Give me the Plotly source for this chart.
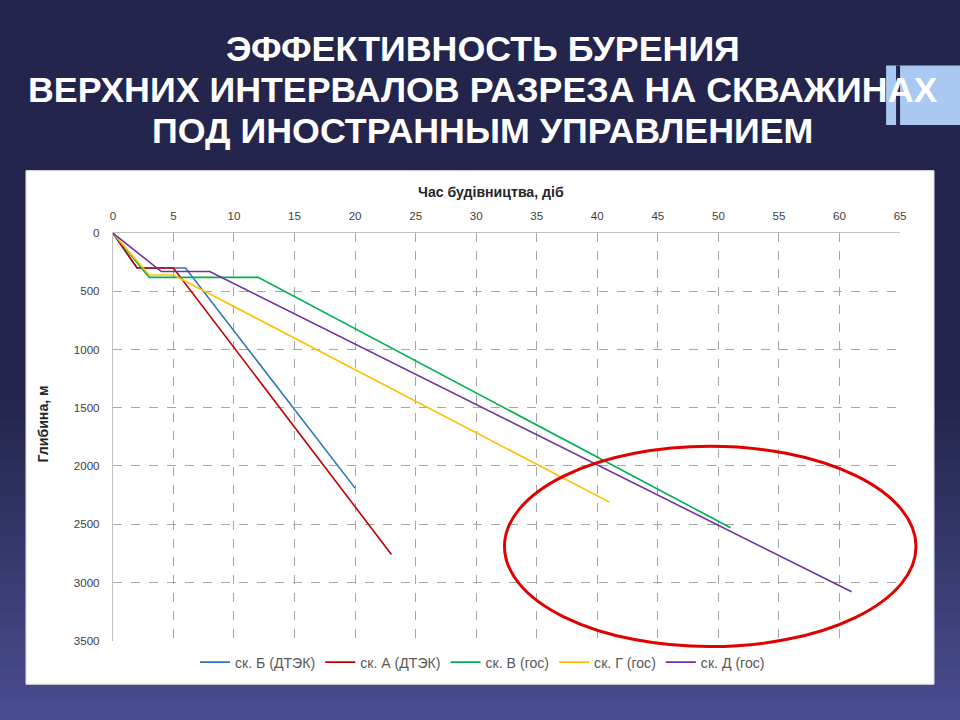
import plotly.graph_objects as go

# rendering scale compensation (reference pixels -> figure pixels)
K = 968 / 960
W, H = 968, 726

# ---- data (days, depth m) ----
names = ["ск. Б (ДТЭК)", "ск. А (ДТЭК)", "ск. В (гос)", "ск. Г (гос)", "ск. Д (гос)"]
days_B = [0, 2, 6, 20]
depth_B = [0, 300, 300, 2190]
days_A = [0, 2, 5, 23]
depth_A = [0, 300, 300, 2760]
days_V = [0, 3, 12, 51]
depth_V = [0, 380, 380, 2530]
days_G = [0, 3, 5, 41]
depth_G = [0, 360, 360, 2310]
days_D = [0, 4, 8, 61]
depth_D = [0, 330, 330, 3080]
colors = ["#2E75B6", "#C00000", "#00B050", "#FFC000", "#7030A0"]

title_lines = ["ЭФФЕКТИВНОСТЬ БУРЕНИЯ",
               "ВЕРХНИХ ИНТЕРВАЛОВ РАЗРЕЗА НА СКВАЖИНАХ",
               "ПОД ИНОСТРАННЫМ УПРАВЛЕНИЕМ"]
x_title = "Час будівництва, діб"
y_title = "Глибина, м"
x_ticks = list(range(0, 70, 5))
y_ticks = list(range(0, 4000, 500))

series = [(days_B, depth_B), (days_A, depth_A), (days_V, depth_V),
          (days_G, depth_G), (days_D, depth_D)]

fig = go.Figure()
for (dx, dy), nm, c in zip(series, names, colors):
    fig.add_trace(go.Scatter(x=dx, y=dy, mode="lines", name=nm,
                             line=dict(color=c, width=1.6)))

def px(x):
    return (x - 2) / 960

def py(y):
    return 1 - y / 720

def fs(s):
    return s * K

shapes = []
# background gradient (dark navy -> blue-violet)
top = (35, 37, 76)
bot = (74, 77, 143)
N = 72
for i in range(N):
    y0 = i * 720 / N
    y1 = (i + 1) * 720 / N
    t = (y0 + y1) / 2 / 720
    f = 0 if t < 0.55 else (t - 0.55) / 0.45
    col = tuple(int(round(a + (b - a) * f)) for a, b in zip(top, bot))
    shapes.append(dict(type="rect", xref="paper", yref="paper", x0=-0.01, x1=1.01,
                       y0=py(y1) - 0.001, y1=py(y0) + 0.001, layer="below",
                       line=dict(width=0), fillcolor="rgb(%d,%d,%d)" % col))
# light-blue accent rectangles top-right
shapes.append(dict(type="rect", xref="paper", yref="paper", x0=px(886), x1=1.01,
                   y0=py(120), y1=py(60), layer="below", line=dict(width=0),
                   fillcolor="#A9C8F2"))
shapes.append(dict(type="rect", xref="paper", yref="paper", x0=px(896), x1=px(900),
                   y0=py(120), y1=py(60), layer="below", line=dict(width=0),
                   fillcolor="#23254C"))
# white chart panel
shapes.append(dict(type="rect", xref="paper", yref="paper", x0=px(25), x1=px(934),
                   y0=py(684), y1=py(166), layer="below",
                   line=dict(color="#D9D9D9", width=1), fillcolor="white"))
# red highlight ellipse
shapes.append(dict(type="circle", xref="paper", yref="paper", x0=px(504), x1=px(916),
                   y0=py(646), y1=py(444), layer="above",
                   line=dict(color="#E00000", width=3)))

annotations = []
for yy, txt in zip([43, 85, 126], title_lines):
    annotations.append(dict(text="<b>%s</b>" % txt, xref="paper", yref="paper",
                            x=px(482), y=py(yy), xanchor="center", yanchor="middle",
                            showarrow=False,
                            font=dict(family="Liberation Sans, Arial", size=fs(35.5), color="white")))
# axis titles (placed as in the reference, off-centre like Excel)
annotations.append(dict(text="<b>%s</b>" % x_title, xref="paper", yref="paper",
                        x=px(491), y=py(188), xanchor="center", yanchor="middle",
                        showarrow=False,
                        font=dict(family="Liberation Sans, Arial", size=fs(14), color="#262626")))
annotations.append(dict(text="<b>%s</b>" % y_title, xref="paper", yref="paper",
                        x=px(43), y=py(421), xanchor="center", yanchor="middle",
                        textangle=-90, showarrow=False,
                        font=dict(family="Liberation Sans, Arial", size=fs(14), color="#262626")))

fig.update_layout(
    width=W, height=H,
    margin=dict(l=0, r=0, t=0, b=0),
    paper_bgcolor="#23254C",
    plot_bgcolor="white",
    shapes=shapes,
    annotations=annotations,
    showlegend=True,
    legend=dict(orientation="h", x=px(482), xanchor="center", y=py(662), yanchor="middle",
                font=dict(family="Liberation Sans, Arial", size=fs(14), color="#595959"),
                bgcolor="rgba(0,0,0,0)", itemwidth=30),
    font=dict(family="Liberation Sans, Arial"),
    xaxis=dict(domain=[px(112), px(900)], range=[0, 65], side="top",
               tickmode="array", tickvals=x_ticks,
               showgrid=True, gridcolor="#A6A6A6", griddash="dash", gridwidth=1,
               showline=True, linecolor="#BFBFBF", linewidth=1, zeroline=False,
               ticks="", ticklabelstandoff=7, tickfont=dict(size=fs(11.5), color="#404040")),
    yaxis=dict(domain=[py(640), py(229)], range=[3500, 0],
               tickmode="array", tickvals=y_ticks,
               showgrid=True, gridcolor="#A6A6A6", griddash="dash", gridwidth=1,
               showline=True, linecolor="#BFBFBF", linewidth=1, zeroline=False,
               ticks="", ticklabelstandoff=10, tickfont=dict(size=fs(11.5), color="#404040")),
)

post = ("document.documentElement.style.margin='0';"
        "document.documentElement.style.overflow='hidden';"
        "document.body.style.margin='0';"
        "document.body.style.overflow='hidden';"
        "document.body.style.background='#474a8c';")

fig.write_html("out.html", post_script=post, config={"displayModeBar": False})
